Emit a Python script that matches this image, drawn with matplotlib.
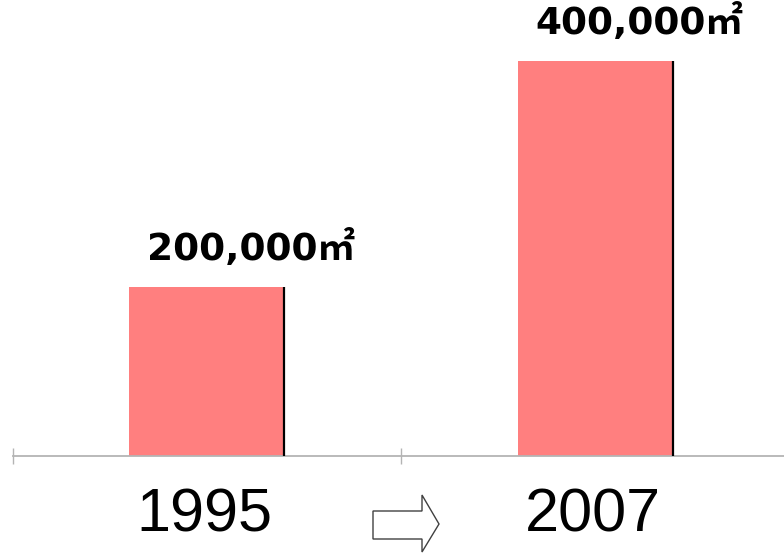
import matplotlib.pyplot as plt
from matplotlib.patches import Polygon

# DATA
years = ["1995", "2007"]
areas = [200000, 400000]
area_labels = ["200,000㎡", "400,000㎡"]

# FIGURE
W_PX, H_PX = 784, 553
fig = plt.figure(figsize=(W_PX / 100, H_PX / 100), dpi=100)

ax = fig.add_axes([12.5 / W_PX, 1 - 456 / H_PX, 777 / W_PX, 451.5 / H_PX])

x = list(range(len(years)))
bar_w = 0.4

ax.bar(x, areas, width=bar_w, color="#ff7f7f", zorder=2)
# dark right edge on each bar
ax.vlines([xi + bar_w / 2 for xi in x], 50000, areas,
          colors="black", linewidth=1.6, zorder=3)

ax.set_xlim(-0.5, len(years) - 0.5)
ax.set_ylim(50000, 450000)

for s in ["top", "left", "right"]:
    ax.spines[s].set_visible(False)
ax.spines["bottom"].set_color("#b4b4b4")
ax.spines["bottom"].set_linewidth(1.3)

ax.set_yticks([])
ax.set_xticks([i - 0.5 for i in range(len(years) + 1)])
ax.set_xticklabels([])
ax.tick_params(axis="x", direction="inout", length=11.5, width=1,
               color="#b4b4b4")

# value labels
for xi, v, lab in zip(x, areas, area_labels):
    ax.annotate(lab, (xi, v), xytext=(-43, 19.4), textcoords="offset points",
                ha="left", va="baseline", fontsize=27, fontweight="bold",
                family=["DejaVu Sans", "Noto Sans CJK KR"], annotation_clip=False)

# year labels
for xi, yr in zip(x, years):
    ax.annotate(yr, (xi, 50000), xytext=(-1.5, -54.7), textcoords="offset points",
                ha="center", va="baseline", fontsize=44,
                family="Liberation Sans", annotation_clip=False)

# outlined block arrow between the years
arrow_px = [(373, 511), (422, 511), (422, 495), (439, 524),
            (422, 552), (422, 539), (373, 539)]
arrow = Polygon([(px / W_PX, 1 - py / H_PX) for px, py in arrow_px],
                closed=True, facecolor="white", edgecolor="#404040",
                linewidth=1, transform=fig.transFigure)
fig.patches.append(arrow)

fig.savefig("out.png", dpi=100)
